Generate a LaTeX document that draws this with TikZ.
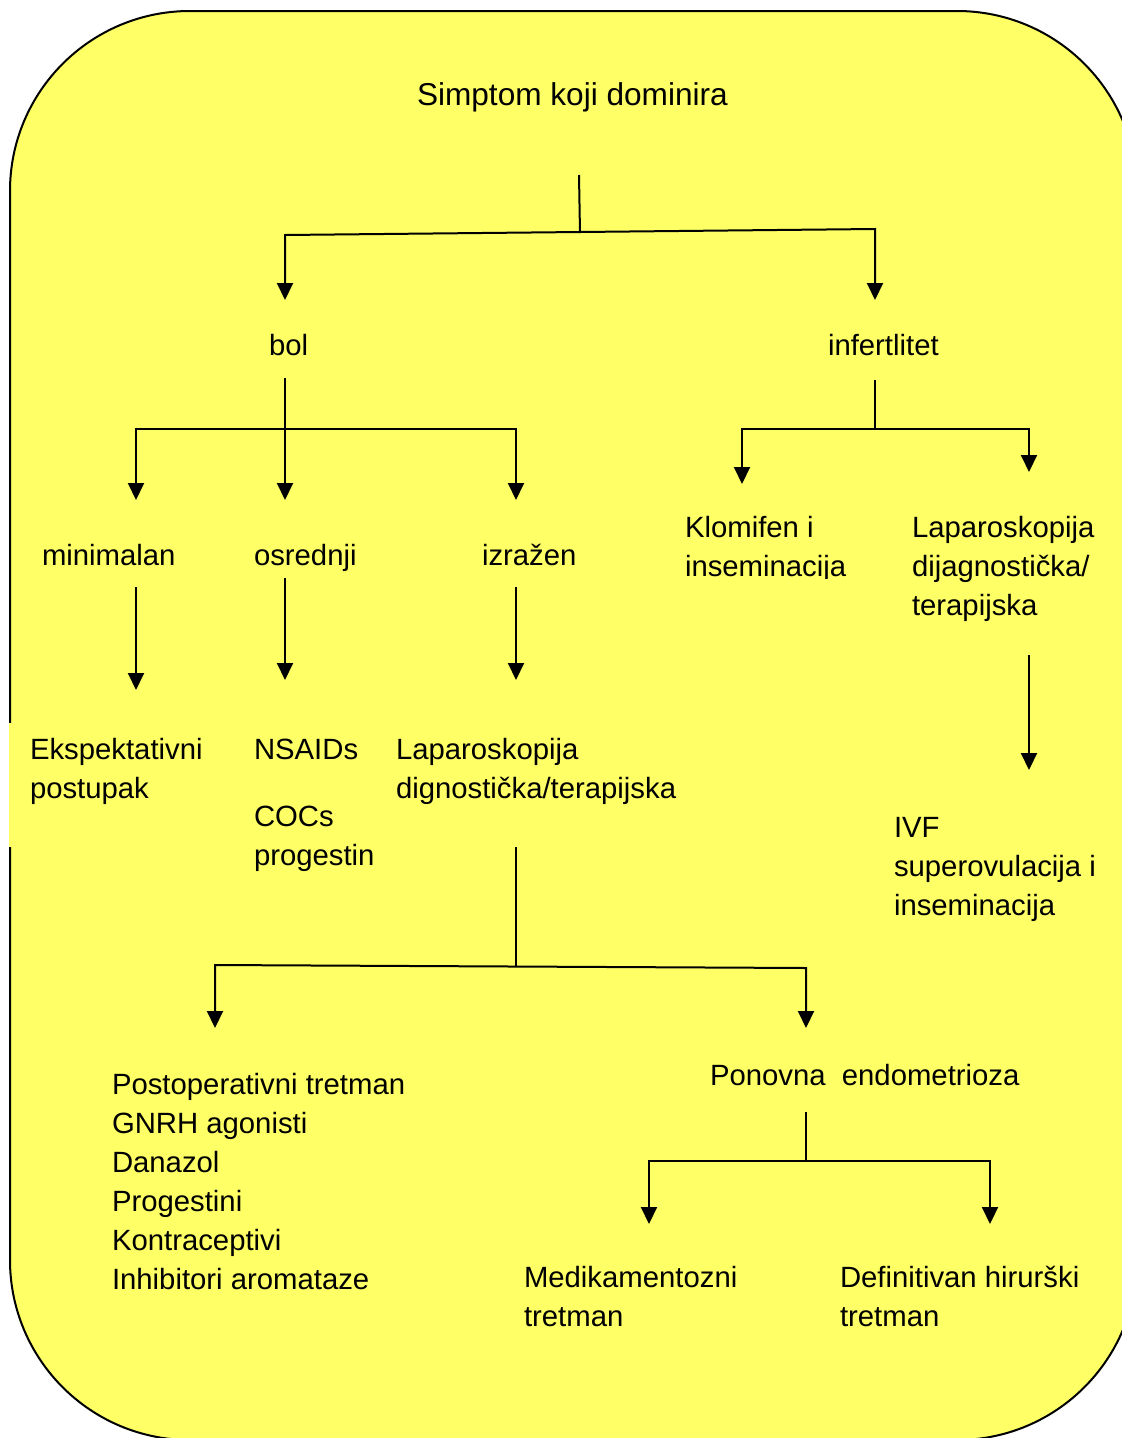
\documentclass[tikz,border=0pt]{standalone}
\usepackage{fontspec}
\setmainfont{Liberation Sans}
\usetikzlibrary{arrows.meta}
\definecolor{bgyellow}{RGB}{255,255,102}
\newcommand{\mlines}[1]{\begin{tabular}[t]{@{}l@{}}#1\end{tabular}}
\begin{document}
\begin{tikzpicture}[x=1pt,y=-1pt,
  txt/.style={anchor=base west, inner sep=0pt, outer sep=0pt, font=\fontsize{29.3}{39}\selectfont},
  conn/.style={line width=2pt, line join=miter},
  arr/.style={conn, -{Triangle[width=16pt,length=17pt]}},
  darr/.style={conn, {Triangle[width=16pt,length=17pt]}-{Triangle[width=16pt,length=17pt]}},
]
\useasboundingbox (0,0) rectangle (1122,1438);
% background rounded panel
\begin{scope}
  \clip (0,0) rectangle (1122,1438);
  \draw[fill=bgyellow, line width=2pt, rounded corners=180pt] (10,11) rectangle (1137,1440);
\end{scope}
\fill[bgyellow] (9,723) rectangle (22,847);

% texts
\node[txt, font=\fontsize{31.6}{39}\selectfont] (title) at (417,105) {Simptom koji dominira};
\node[txt] (bol) at (269,355) {bol};
\node[txt] (inf) at (828,355) {infertlitet};
\node[txt] (min) at (42,565) {minimalan};
\node[txt] (osr) at (254,565) {osrednji};
\node[txt] (izr) at (482,565) {izražen};
\begin{scope}
  \clip (600,480) rectangle (900,578);
  \node[txt] (klo) at (685,537) {\mlines{Klomifen i\\inseminacija}};
\end{scope}
\node[txt] (lapR) at (912,537) {\mlines{Laparoskopija\\dijagnostička/\\terapijska}};
\node[txt] (eks) at (30,759) {\mlines{Ekspektativni\\postupak}};
\begin{scope}
  \clip (200,700) rectangle (373,900);
  \node[txt] (nsa) at (254,759) {\mlines{NSAIDs\\[28pt]COCs\\progestini}};
\end{scope}
\node[txt] (lapM) at (396,759) {\mlines{Laparoskopija\\dignostička/terapijska}};
\node[txt] (ivf) at (894,837) {\mlines{IVF\\superovulacija i\\inseminacija}};
\node[txt] (post) at (112,1094) {\mlines{Postoperativni tretman\\GNRH agonisti\\Danazol\\Progestini\\Kontraceptivi\\Inhibitori aromataze}};
\node[txt] (pon) at (710,1085) {Ponovna\ \ endometrioza};
\node[txt] (med) at (524,1287) {\mlines{Medikamentozni\\tretman}};
\node[txt] (def) at (840,1287) {\mlines{Definitivan hirurški\\tretman}};

% junction coordinates
\coordinate (t0) at (579,175);
\coordinate (t1) at (580,233);
\coordinate (tL) at (285,235);
\coordinate (tR) at (875,229);
\coordinate (bolIn) at (285,300);
\coordinate (infIn) at (875,300);

\coordinate (bolOut) at (285,378);
\coordinate (osrIn) at (285,500);
\coordinate (bL) at (136,429);
\coordinate (bR) at (516,429);
\coordinate (minIn) at (136,500);
\coordinate (izrIn) at (516,500);

\coordinate (infOut) at (875,380);
\coordinate (iJ) at (875,429);
\coordinate (iL) at (742,429);
\coordinate (iR) at (1029,429);
\coordinate (kloIn) at (742,484);
\coordinate (lapRIn) at (1029,472);

\coordinate (minOut) at (136,587);
\coordinate (eksIn) at (136,690);
\coordinate (osrOut) at (285,578);
\coordinate (nsaIn) at (285,680);
\coordinate (izrOut) at (516,587);
\coordinate (lapMIn) at (516,680);
\coordinate (lapROut) at (1029,655);
\coordinate (ivfIn) at (1029,770);

\coordinate (lapMOut) at (516,847);
\coordinate (mJ) at (516,967);
\coordinate (mL) at (215,965);
\coordinate (mR) at (806,968);
\coordinate (postIn) at (215,1028);
\coordinate (ponIn) at (806,1028);

\coordinate (ponOut) at (806,1112);
\coordinate (pJ) at (806,1161);
\coordinate (pL) at (649,1161);
\coordinate (pR) at (990,1161);
\coordinate (medIn) at (649,1224);
\coordinate (defIn) at (990,1224);

% connectors
\draw[conn] (t0) -- (t1);
\draw[darr] (bolIn) -- (tL) -- (tR) -- (infIn);

\draw[arr] (bolOut) -- (osrIn);
\draw[darr] (minIn) -- (bL) -- (bR) -- (izrIn);

\draw[conn] (infOut) -- (iJ);
\draw[darr] (kloIn) -- (iL) -- (iR) -- (lapRIn);

\draw[arr] (minOut) -- (eksIn);
\draw[arr] (osrOut) -- (nsaIn);
\draw[arr] (izrOut) -- (lapMIn);
\draw[arr] (lapROut) -- (ivfIn);

\draw[conn] (lapMOut) -- (mJ);
\draw[darr] (postIn) -- (mL) -- (mR) -- (ponIn);

\draw[conn] (ponOut) -- (pJ);
\draw[darr] (medIn) -- (pL) -- (pR) -- (defIn);
\end{tikzpicture}
\end{document}
